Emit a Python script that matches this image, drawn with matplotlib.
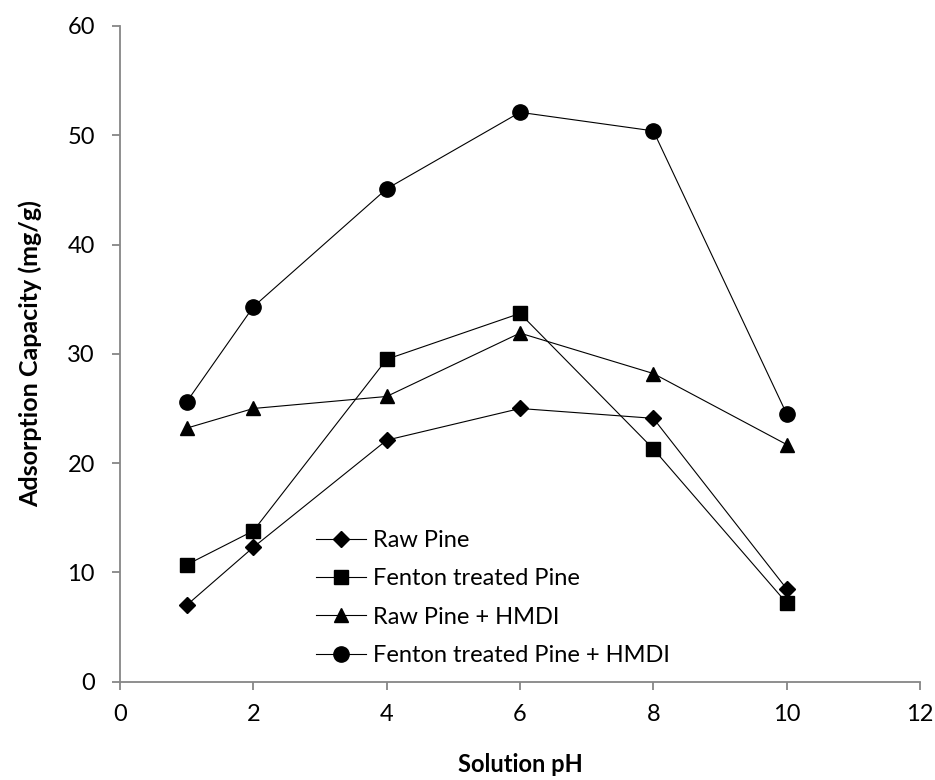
import matplotlib.pyplot as plt

# Adsorption capacity vs solution pH
ph = [1, 2, 4, 6, 8, 10]
raw_pine = [7.0, 12.3, 22.1, 25.0, 24.1, 8.5]
fenton_pine = [10.7, 13.8, 29.5, 33.7, 21.3, 7.2]
raw_pine_hmdi = [23.2, 25.0, 26.1, 31.9, 28.2, 21.7]
fenton_pine_hmdi = [25.6, 34.3, 45.1, 52.1, 50.4, 24.5]

labels = ['Raw Pine', 'Fenton treated Pine', 'Raw Pine + HMDI', 'Fenton treated Pine + HMDI']

plt.rcParams['font.family'] = ['Lato', 'DejaVu Sans']

fig = plt.figure(figsize=(9.35, 7.8), dpi=100)
ax = fig.add_axes([0.1283, 0.126, 0.8557, 0.8407])

ax.plot(ph, raw_pine, color='black', lw=0.8, marker='D', ms=8.5, label=labels[0])
ax.plot(ph, fenton_pine, color='black', lw=0.8, marker='s', ms=9.5, label=labels[1])
ax.plot(ph, raw_pine_hmdi, color='black', lw=0.8, marker='^', ms=10.5, label=labels[2])
ax.plot(ph, fenton_pine_hmdi, color='black', lw=0.8, marker='o', ms=11, label=labels[3])

ax.set_xlim(0, 12)
ax.set_ylim(0, 60)
ax.set_xticks(range(0, 13, 2))
ax.set_yticks(range(0, 61, 10))

for side in ['top', 'right']:
    ax.spines[side].set_visible(False)
for side in ['left', 'bottom']:
    ax.spines[side].set_color('#868686')
    ax.spines[side].set_linewidth(1.3)
ax.tick_params(direction='out', length=6, width=1.3, color='#868686', labelsize=17)
ax.tick_params(axis='x', pad=10)
ax.tick_params(axis='y', pad=12)

ax.set_xlabel('Solution pH', fontsize=17, fontweight='bold', labelpad=20)
ax.set_ylabel('Adsorption Capacity (mg/g)', fontsize=18, fontweight='bold', labelpad=18)

ax.legend(loc='upper left', bbox_to_anchor=(0.245, 0.2317), frameon=False, fontsize=17,
          handlelength=2.1, handletextpad=0.33, labelspacing=0.74, borderaxespad=0, borderpad=0)

plt.savefig('out.png', dpi=100)
